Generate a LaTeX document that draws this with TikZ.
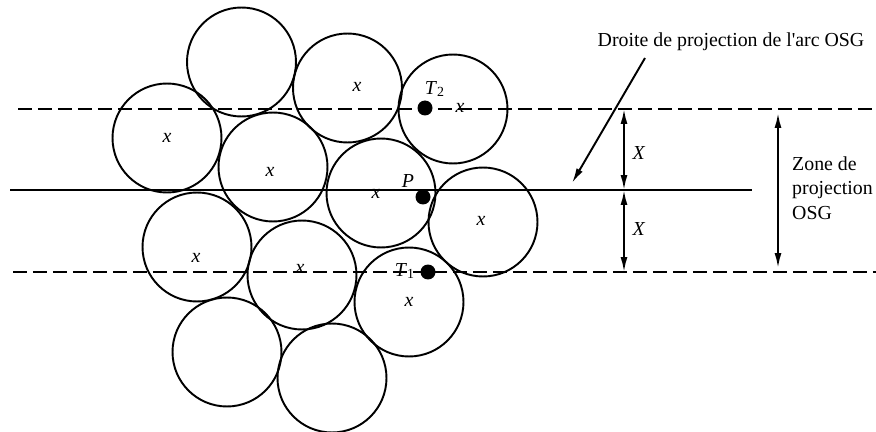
\documentclass[tikz,border=0pt]{standalone}
\usepackage{fontspec}
\setmainfont{Liberation Serif}
\newfontfamily\straightfont{Liberation Serif}[Ligatures=TeXOff]
\usepackage{tikz}
\usetikzlibrary{positioning, arrows.meta}

\newcommand{\labelsize}{\fontsize{11.3}{13.5}\selectfont}

\begin{document}
\begin{tikzpicture}[
            x=0.02cm, y=-0.02cm,
            every node/.style={
                    font=\labelsize
                },
            grain/.style={
                    draw,
                    circle,
                    line width=1.1pt,
                    minimum size=2.18cm,
                    inner sep=0pt
                },
            mark x/.style={
                    font=\labelsize\itshape,
                    inner sep=0pt
                },
            dot/.style={
                    fill,
                    circle,
                    minimum size=0.3cm,
                    inner sep=0pt
                },
            axis/.style={
                    line width=1.1pt
                },
            limit/.style={
                    line width=1.1pt,
                    dash pattern=on 0.28cm off 0.12cm
                },
            arrow/.style={
                    {Latex[length=0.3cm, width=0.14cm]}-{Latex[length=0.3cm, width=0.14cm]},
                    line width=1.1pt
                },
            pointer/.style={
                    -{Latex[length=0.3cm, width=0.14cm]},
                    line width=1.1pt
                }
        ]

        \useasboundingbox (0,0) rectangle (876,432);


        \node[grain] (g1) at (241.5,62) {};
        \node[grain] (g2) at (347.5,88) {};
        \node[grain] (g3) at (167,138) {};
        \node[grain] (g4) at (273,167) {};
        \node[grain] (g5) at (453,109) {};
        \node[grain] (g6) at (381,193) {};
        \node[grain] (g7) at (483,222) {};
        \node[grain] (g8) at (197,247) {};
        \node[grain] (g9) at (302,275) {};
        \node[grain] (g10) at (409,302) {};
        \node[grain] (g11) at (227,352) {};
        \node[grain] (g12) at (332,378) {};


        \node[mark x] (x2) at (357,87) {x};
        \node[mark x] (x3) at (167,138) {x};
        \node[mark x] (x4) at (270,172) {x};
        \node[mark x] (x5) at (460,108) {x};
        \node[mark x] (x6) at (376,194) {x};
        \node[mark x] (x7) at (481,221) {x};
        \node[mark x] (x8) at (196,258) {x};
        \node[mark x] (x9) at (300,269) {x};
        \node[mark x] (x10) at (409,302) {x};


        \coordinate (up-l) at (18,109);
        \coordinate (up-r) at (876,109);
        \coordinate (mid-l) at (10,190);
        \coordinate (mid-r) at (752,190);
        \coordinate (lo-l) at (13,272);
        \coordinate (lo-r) at (876,272);

        \draw[limit](up-l)--(up-r);
        \draw[axis](mid-l)--(mid-r);
        \draw[limit](lo-l)--(lo-r);


        \node[dot] (t2) at (425,108) {};
        \node[dot] (p) at (423,197) {};
        \node[dot] (t1) at (428,272) {};

        \node (t2lab) at (435,89) {\textit{T}\textsubscript{2}};
        \node (plab) at (408,181) {\textit{P}};
        \node (t1lab) at (405,271) {\textit{T}\textsubscript{1}};


        \coordinate (xa-top) at (624,109);
        \coordinate (xa-mid) at (624,190);
        \coordinate (xa-bot) at (624,272);

        \draw[arrow](xa-top)--(xa-mid);
        \draw[arrow](xa-mid)--(xa-bot);

        \node (xu) at (639,153) {\textit{X}};
        \node (xl) at (639,229) {\textit{X}};


        \coordinate (zone-top) at (778,113);
        \coordinate (zone-bot) at (778,268);

        \draw[arrow](zone-top)--(zone-bot);

        \node[align=left, anchor=west] (zone) at (786,188)
        {Zone de\\[0.5pt]projection\\[0.5pt]OSG};


        \node (droite) at (731,42)
        {Droite de projection de l{\straightfont '}arc OSG};

        \coordinate (ptr-start) at (645,58);
        \coordinate (ptr-end) at (572,183);

        \draw[pointer](ptr-start)--(ptr-end);


    \end{tikzpicture}
\end{document}
